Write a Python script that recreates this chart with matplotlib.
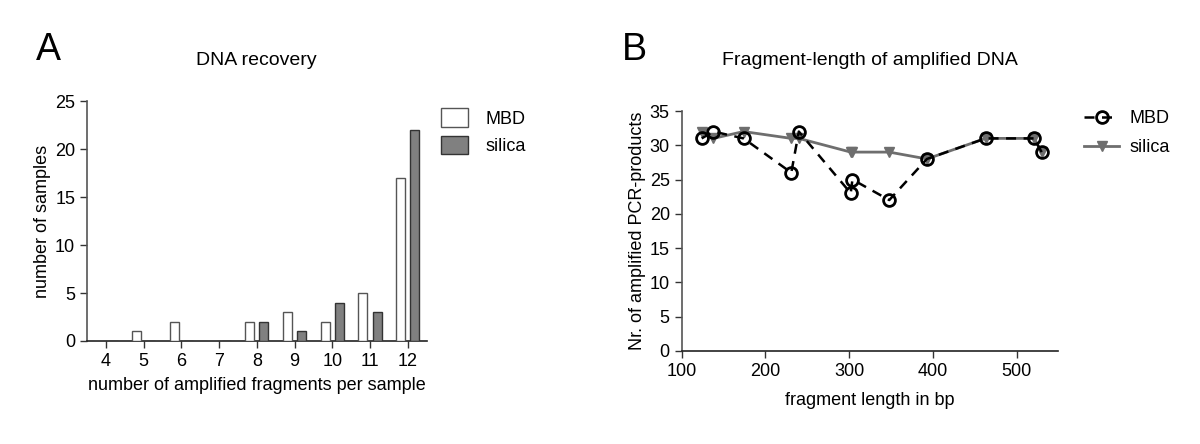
import numpy as np
import matplotlib.pyplot as plt

plt.rcParams['font.family'] = ['Liberation Sans', 'DejaVu Sans']

# panel A: DNA recovery histogram
fragments = [4, 5, 6, 7, 8, 9, 10, 11, 12]
mbd_counts = [0, 1, 2, 0, 2, 3, 2, 5, 17]
silica_counts = [0, 0, 0, 0, 2, 1, 4, 3, 22]

# panel B: fragment length vs amplified products
frag_len = [124, 138, 174, 231, 240, 302, 304, 348, 393, 463, 521, 530]
mbd_products = [31, 32, 31, 26, 32, 23, 25, 22, 28, 31, 31, 29]
silica_products = [32, 31, 32, 31, 31, 29, 29, 29, 28, 31, 31, 29]

fig = plt.figure(figsize=(12, 4.44), dpi=100)

# ---- A ----
ax = fig.add_axes([0.0725, 0.232, 0.283, 0.54])
x = np.array(fragments)
w = 0.24
ax.bar(x - 0.19, mbd_counts, w, color='white', edgecolor='#555555',
       linewidth=1.0, label='MBD', zorder=3)
ax.bar(x + 0.19, silica_counts, w, color='#808080', edgecolor='#333333',
       linewidth=1.0, label='silica', zorder=3)
ax.set_xlim(3.5, 12.5)
ax.set_ylim(0, 25)
ax.set_xticks(fragments)
ax.set_yticks([0, 5, 10, 15, 20, 25])
ax.set_xlabel('number of amplified fragments per sample', fontsize=13, labelpad=5)
ax.set_ylabel('number of samples', fontsize=13, labelpad=3)
ax.set_title('DNA recovery', fontsize=14, pad=26)
ax.legend(loc='upper left', bbox_to_anchor=(1.02, 1.0), frameon=False,
          fontsize=13, handlelength=1.5, handleheight=1.2, borderaxespad=0,
          handletextpad=1.0, labelspacing=0.45)
fig.text(0.03, 0.865, 'A', fontsize=27)

# ---- B ----
bx = fig.add_axes([0.568, 0.21, 0.314, 0.54])
bx.plot(frag_len, silica_products, color='#6e6e6e', linewidth=2.0,
        marker='v', markersize=7.5, markerfacecolor='#6e6e6e',
        markeredgecolor='#6e6e6e', label='silica', zorder=2)
bx.plot(frag_len, mbd_products, color='black', linewidth=1.8,
        linestyle=(0, (4, 3)), marker='o', markersize=8.5,
        markerfacecolor='none', markeredgecolor='black',
        markeredgewidth=2.0, label='MBD', zorder=3)
bx.set_xlim(100, 550)
bx.set_ylim(0, 35)
bx.set_xticks([100, 200, 300, 400, 500])
bx.set_yticks([0, 5, 10, 15, 20, 25, 30, 35])
bx.set_xlabel('fragment length in bp', fontsize=13, labelpad=9)
bx.set_ylabel('Nr. of amplified PCR-products', fontsize=13, labelpad=3)
bx.set_title('Fragment-length of amplified DNA', fontsize=14, pad=33)
h, l = bx.get_legend_handles_labels()
bx.legend(h[::-1], l[::-1], loc='upper left', bbox_to_anchor=(1.05, 1.035),
          frameon=False, fontsize=13, handlelength=1.9, borderaxespad=0,
          handletextpad=0.6, labelspacing=0.7)
fig.text(0.518, 0.865, 'B', fontsize=27)

for a in (ax, bx):
    a.spines['top'].set_visible(False)
    a.spines['right'].set_visible(False)
    a.spines['left'].set_color('#555555')
    a.spines['bottom'].set_color('#222222')
    a.spines['left'].set_linewidth(1.2)
    a.spines['bottom'].set_linewidth(1.2)
    a.tick_params(direction='out', length=5, width=1.0, labelsize=13,
                  colors='#333333', labelcolor='black')

fig.savefig('out.png', dpi=100)
